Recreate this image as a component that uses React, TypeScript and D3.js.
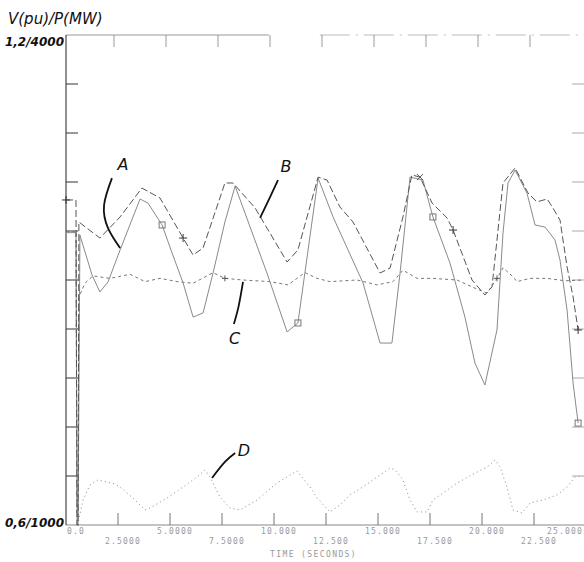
import * as d3 from "d3";

// time (s) / power (MW)
const tA = [0, 0.48, 0.53, 0.58, 0.67, 1.25, 1.63, 2.02, 2.6, 3.56, 3.94, 4.62, 5.1, 5.63, 6.11, 6.59, 7.07, 7.64, 8.13, 9.66, 10.63, 11.15, 12.12, 12.84, 14.28, 15.1, 15.67, 16.06, 16.54, 17.16, 17.64, 18.46, 19.18, 19.66, 20.14, 20.72, 21.01, 21.25, 21.59, 22.16, 22.55, 23.03, 23.51, 23.75, 24.09, 24.38, 24.62];
const pA = [2790, 2790, 1000, 1000, 2775, 2531, 2427, 2488, 2684, 2996, 2971, 2837, 2665, 2482, 2273, 2298, 2543, 2855, 3075, 2543, 2182, 2237, 3124, 2886, 2482, 2114, 2114, 2543, 3130, 3112, 2886, 2604, 2273, 1992, 1857, 2194, 2788, 3094, 3173, 3033, 2837, 2824, 2745, 2622, 2316, 1869, 1624];

const tB = [0, 0.48, 0.53, 0.58, 0.62, 1.63, 2.6, 3.65, 4.52, 5.63, 6.11, 6.59, 7.64, 8.03, 9.09, 10.63, 11.15, 12.12, 12.55, 13.17, 13.8, 15.1, 15.58, 16.2, 16.63, 17.02, 17.6, 18.32, 18.61, 19.52, 20.14, 20.48, 21.01, 21.59, 22.21, 22.64, 23.13, 23.41, 23.75, 24.09, 24.38, 24.62];
const pB = [2990, 2990, 1000, 1000, 2855, 2757, 2886, 3063, 3002, 2757, 2653, 2696, 3094, 3094, 2941, 2610, 2684, 3130, 3112, 2947, 2855, 2543, 2573, 2886, 3143, 3130, 2971, 2880, 2806, 2500, 2408, 2457, 3094, 3186, 3033, 2978, 2996, 2941, 2867, 2580, 2396, 2194];

// voltage (pu)
const tC = [0, 0.48, 0.53, 0.58, 0.62, 0.91, 1.3, 2.12, 3.08, 3.8, 4.52, 5.34, 6.11, 7.07, 7.64, 8.51, 9.81, 10.67, 11.49, 12.07, 12.69, 13.99, 14.95, 15.72, 16.2, 16.88, 17.64, 18.8, 19.57, 20.24, 20.72, 21.01, 21.49, 21.68, 22.31, 23.13, 23.99, 24.86];
const vC = [0.959, 0.959, 0.612, 0.612, 0.879, 0.896, 0.905, 0.902, 0.907, 0.898, 0.902, 0.898, 0.896, 0.909, 0.902, 0.9, 0.898, 0.894, 0.909, 0.902, 0.898, 0.9, 0.894, 0.898, 0.912, 0.902, 0.902, 0.9, 0.891, 0.884, 0.902, 0.915, 0.904, 0.898, 0.902, 0.902, 0.899, 0.9];

const tD = [0.53, 0.58, 0.82, 1.15, 1.54, 2.36, 2.6, 3.22, 3.8, 4.04, 4.86, 5.63, 6.3, 6.68, 6.92, 7.4, 7.88, 8.37, 9.18, 10.14, 11.11, 11.73, 12.07, 12.69, 13.17, 13.65, 14.28, 15.1, 15.58, 15.82, 16.2, 16.54, 16.88, 17.36, 17.64, 18.13, 18.8, 19.76, 20.24, 20.63, 20.87, 21.2, 21.49, 21.92, 22.31, 22.93, 23.61, 24.09, 24.47, 24.86];
const pD = [1000, 1012, 1153, 1245, 1276, 1251, 1233, 1165, 1092, 1104, 1165, 1233, 1294, 1337, 1294, 1171, 1104, 1092, 1153, 1257, 1331, 1233, 1165, 1080, 1122, 1184, 1233, 1306, 1349, 1337, 1276, 1153, 1080, 1080, 1153, 1196, 1257, 1324, 1355, 1398, 1355, 1233, 1092, 1073, 1135, 1153, 1184, 1233, 1294, 1300];

const markA = [4.62, 11.15, 17.64, 24.62];
const markB = [0, 5.63, 18.61, 24.62];
const markBx = [17.02];
const markC = [7.64, 20.72];

const xTicks = [0, 2.5, 5, 7.5, 10, 12.5, 15, 17.5, 20, 22.5, 25];
const xTickLabels = ["0.0", "2.5000", "5.0000", "7.5000", "10.000", "12.500", "15.000", "17.500", "20.000", "22.500", "25.000"];
const yTicksMW = d3.range(1000, 4001, 300);

// handwritten notes: label, text position, leader points (t, MW)
const notes = [
  { label: "A", at: [2.74, 3173], lead: [[2.21, 3124], [1.83, 2959], [2.02, 2818], [2.6, 2696]] },
  { label: "B", at: [10.58, 3161], lead: [[10.19, 3112], [9.81, 3008], [9.33, 2880]] },
  { label: "C", at: [8.1, 2110], lead: [[8.51, 2488], [8.3, 2340], [8.07, 2230]] },
  { label: "D", at: [8.55, 1420], lead: [[8.13, 1441], [7.64, 1386], [7.02, 1288]] },
];

const W = 584;
const H = 562;

export default function App() {
  const x = d3.scaleLinear().domain([0, 25]).range([66, 586]);
  const yP = d3.scaleLinear().domain([1000, 4000]).range([525, 35]);
  const yV = d3.scaleLinear().domain([0.6, 1.2]).range([525, 35]);

  const serA = tA.map((t, i) => [t, pA[i]]);
  const serB = tB.map((t, i) => [t, pB[i]]);
  const serC = tC.map((t, i) => [t, vC[i]]);
  const serD = tD.map((t, i) => [t, pD[i]]);

  const lineP = d3.line<number[]>().x(d => x(d[0])).y(d => yP(d[1]));
  const lineV = d3.line<number[]>().x(d => x(d[0])).y(d => yV(d[1]));
  const leader = d3.line<number[]>().x(d => x(d[0])).y(d => yP(d[1])).curve(d3.curveNatural);

  const pick = (ser: number[][], ts: number[]) =>
    ts.map(t => ser.find(d => Math.abs(d[0] - t) < 0.01)).filter(Boolean) as number[][];

  const hand = "'DejaVu Sans', sans-serif";
  const mono = "'DejaVu Sans Mono', monospace";
  const last = xTicks.length - 1;

  return (
    <svg width={W} height={H} style={{ position: "absolute", left: 0, top: 0, background: "#fff" }}>
      <defs>
        <clipPath id="plot">
          <rect x={60} y={30} width={530} height={500} />
        </clipPath>
      </defs>

      {/* frame */}
      <line x1={x(0)} x2={x(9.75)} y1={35} y2={35} stroke="#999" />
      <line x1={x(12.2)} x2={W} y1={35} y2={35} stroke="#bbb" strokeDasharray="30 6 2 6" />
      <line x1={x(0)} x2={W} y1={525} y2={525} stroke="#888" />
      <line x1={x(0)} x2={x(0)} y1={35} y2={525} stroke="#222" />
      {yTicksMW.slice(1, -1).map(v => (
        <g key={v}>
          <line x1={x(0)} x2={x(0) + 12} y1={yP(v)} y2={yP(v)} stroke="#333" />
          <line x1={W - 12} x2={W} y1={yP(v)} y2={yP(v)} stroke="#aaa" />
        </g>
      ))}
      {xTicks.slice(1, -1).map(t => (
        <g key={t}>
          <line x1={x(t)} x2={x(t)} y1={525} y2={513} stroke="#777" />
          <line x1={x(t) - 4} x2={x(t) - 4} y1={35} y2={47} stroke="#999" />
        </g>
      ))}
      {xTicks.map((t, i) => (
        <text key={t} x={i === 0 ? x(t) + 1 : i === last ? W - 1 : x(t) + 5} y={i % 2 === 0 ? 534 : 544}
          textAnchor={i === 0 ? "start" : i === last ? "end" : "middle"} fontFamily={mono} fontSize={8}
          letterSpacing={1.2} fill="#999">{xTickLabels[i]}</text>
      ))}
      <text x={270} y={557} fontFamily={mono} fontSize={8} letterSpacing={1.4} fill="#999">TIME (SECONDS)</text>

      {/* handwritten axis labels */}
      <text x={8} y={24} fontFamily={hand} fontStyle="italic" fontSize={15} fill="#111">V(pu)/P(MW)</text>
      <text x={64} y={46} textAnchor="end" fontFamily={hand} fontStyle="italic" fontWeight="bold" fontSize={12} fill="#111">1,2/4000</text>
      <text x={64} y={527} textAnchor="end" fontFamily={hand} fontStyle="italic" fontWeight="bold" fontSize={12} fill="#111">0,6/1000</text>

      {/* curves */}
      <g clipPath="url(#plot)" fill="none">
        <path d={lineP(serD) || ""} stroke="#999" strokeWidth={1} strokeDasharray="1.2 3" />
        <path d={lineV(serC) || ""} stroke="#777" strokeWidth={1} strokeDasharray="3 3" />
        <path d={lineP(serA) || ""} stroke="#8a8a8a" strokeWidth={1} />
        <path d={lineP(serB) || ""} stroke="#555" strokeWidth={1} strokeDasharray="7 3" />

        {pick(serA, markA).map((d, i) => (
          <rect key={"a" + i} x={x(d[0]) - 3} y={yP(d[1]) - 3} width={6} height={6} stroke="#777" />
        ))}
        {pick(serB, markB).map((d, i) => (
          <path key={"b" + i} d={`M${x(d[0]) - 4},${yP(d[1])}h8M${x(d[0])},${yP(d[1]) - 4}v8`} stroke="#333" />
        ))}
        {pick(serB, markBx).map((d, i) => (
          <path key={"bx" + i} d={`M${x(d[0]) - 3},${yP(d[1]) - 3}l6,6M${x(d[0]) + 3},${yP(d[1]) - 3}l-6,6`} stroke="#555" />
        ))}
        {pick(serC, markC).map((d, i) => (
          <path key={"c" + i} d={`M${x(d[0]) - 3},${yV(d[1])}h6M${x(d[0])},${yV(d[1]) - 3}v6`} stroke="#555" />
        ))}
      </g>

      {/* annotations */}
      {notes.map(n => (
        <g key={n.label}>
          <path d={leader(n.lead) || ""} fill="none" stroke="#111" strokeWidth={1.8} />
          <text x={x(n.at[0])} y={yP(n.at[1])} textAnchor="middle" fontFamily={hand} fontStyle="italic"
            fontSize={16} fill="#111">{n.label}</text>
        </g>
      ))}
    </svg>
  );
}
